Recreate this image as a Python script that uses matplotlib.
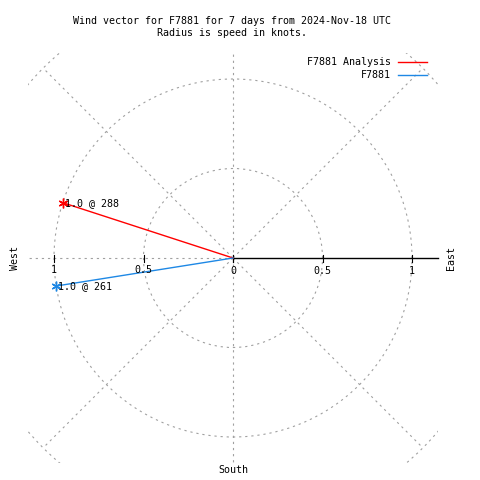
import numpy as np
import matplotlib
matplotlib.use('Agg')
import matplotlib.pyplot as plt
from matplotlib.patches import Rectangle, Circle

# data
names = ['F7881 Analysis', 'F7881']
speeds = [1.0, 1.0]          # knots
directions = [288, 261]      # degrees, compass
colors = ['#ff0000', '#1e88e5']
rings = [0.5, 1.0, 1.5]
spokes = [45, 90, 135, 180, 225, 270, 315]   # 0 (east) is the black axis
tick_vals = [0, 0.5, 1]
tick_labels = ['0', '0.5', '1']

title = 'Wind vector for F7881 for 7 days from 2024-Nov-18 UTC\nRadius is speed in knots.'

# layout: centre at pixel (233, 258), 179 px per knot
cx, cy, scale = 233, 258, 179.0
W = H = 480
fs = 7.2
mono = 'DejaVu Sans Mono'
grey = '#a0a0a0'

fig = plt.figure(figsize=(4.8, 4.8), dpi=100)
ax = fig.add_axes([0, 0, 1, 1])
ax.set_xlim(-cx / scale, (W - cx) / scale)
ax.set_ylim(-(H - cy) / scale, cy / scale)
ax.axis('off')

def px(x, y):
    # pixel (from top-left) -> data
    return (x - cx) / scale, (cy - y) / scale

lim = 1.147
clip = Rectangle((-lim, -lim), 2 * lim, 2 * lim, transform=ax.transData)

# polar grid
for r in rings:
    c = Circle((0, 0), r, fill=False, ec=grey, lw=0.8, ls=(0, (2, 3.5)))
    ax.add_patch(c)
    c.set_clip_path(clip)
for a in spokes:
    t = np.radians(a)
    ln, = ax.plot([0, 1.5 * np.cos(t)], [0, 1.5 * np.sin(t)], color=grey, lw=0.8,
                  ls=(0, (2, 3.5)))
    ln.set_clip_path(clip)

# east axis
ax.plot([0, lim], [0, 0], color='black', lw=1)
tl = 7 / scale / 2
for v in tick_vals:
    ax.plot([v, v], [-tl, tl], color='black', lw=0.8)
    ax.plot([-v, -v], [-tl, tl], color='black', lw=0.8)
for v, s in zip(tick_vals, tick_labels):
    ax.text(v, -13 / scale, s, ha='center', va='center', fontsize=fs, family=mono)
    if v != 0:
        ax.text(-v, -12 / scale, s, ha='center', va='center', fontsize=fs, family=mono)

# vectors
for n, sp, d, c in zip(names, speeds, directions, colors):
    t = np.radians(d)
    x, y = sp * np.sin(t), sp * np.cos(t)
    ax.plot([0, x], [0, y], color=c, lw=1)
    ax.plot([x], [y], marker=(6, 2, 0), color=c, ms=7, mew=1)
    ax.text(x + 2 / scale, y, '%.1f @ %d' % (sp, d), ha='left', va='center',
            fontsize=fs, family=mono)

# compass labels
ax.text(*px(15, 258), 'West', rotation=90, ha='center', va='center', fontsize=fs, family=mono)
ax.text(*px(451, 258), 'East', rotation=90, ha='center', va='center', fontsize=fs, family=mono)
ax.text(*px(233, 470), 'South', ha='center', va='center', fontsize=fs, family=mono)

# title
ax.text(*px(232, 27), title, ha='center', va='center', fontsize=fs, family=mono,
        linespacing=1.3)

# legend
for i, (n, c) in enumerate(zip(names, colors)):
    yy = 62 + 13 * i
    ax.text(*px(391, yy), n, ha='right', va='center', fontsize=fs, family=mono)
    x0, y0 = px(398, yy)
    x1, _ = px(427, yy)
    ax.plot([x0, x1], [y0, y0], color=c, lw=1)

fig.savefig('out.png', dpi=100)
